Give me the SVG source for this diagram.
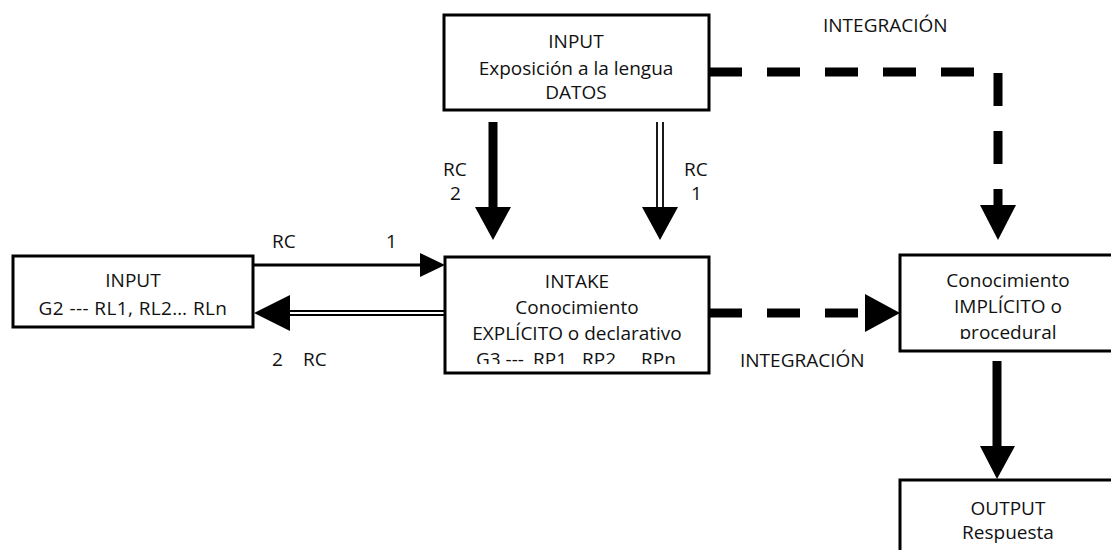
<svg xmlns="http://www.w3.org/2000/svg" width="1111" height="550" viewBox="0 0 1111 550">
<style>
.box{fill:#fff;stroke:#000;stroke-width:3}
text{font-family:"Open Sans","Noto Sans","Liberation Sans",sans-serif;font-size:19px;fill:#111}
.c{text-anchor:middle}
.thick{stroke:#000;stroke-width:9;fill:none}
.thin{stroke:#000;stroke-width:3;fill:none}
.dbl{stroke:#000;stroke-width:1.8;fill:none}
.dash{stroke:#000;stroke-width:9;fill:none;stroke-dasharray:33 25}
.head{fill:#000}
</style>
<defs>
<clipPath id="clipIntake"><rect x="445" y="257" width="264" height="107"/></clipPath>
<clipPath id="clipImpl"><rect x="900" y="255" width="211" height="84"/></clipPath>
</defs>
<rect width="1111" height="550" fill="#fff"/>
<g id="connectors">
  <line class="thick" x1="493" y1="122" x2="493" y2="208"/>
  <polygon class="head" points="475,207 511,207 493,240"/>
  <line class="dbl" x1="657" y1="122" x2="657" y2="208"/>
  <line class="dbl" x1="663" y1="122" x2="663" y2="208"/>
  <polygon class="head" points="642,207 678,207 660,240"/>
  <line class="thin" x1="253" y1="265" x2="422" y2="265"/>
  <polygon class="head" points="420,253 445,265 420,277"/>
  <line class="dbl" x1="445" y1="311" x2="288" y2="311"/>
  <line class="dbl" x1="445" y1="315" x2="288" y2="315"/>
  <polygon class="head" points="290,295 290,331 254,313"/>
  <path class="dash" d="M709,72 H976"/>
  <path class="dash" d="M998,73 V206" stroke-dasharray="33 26"/>
  <polygon class="head" points="980,205 1016,205 998,240"/>
  <path class="dash" d="M709,313 H866"/>
  <polygon class="head" points="865,294 865,332 900,313"/>
  <line class="thick" x1="997" y1="361" x2="997" y2="447"/>
  <polygon class="head" points="980,446 1015,446 997,479"/>
</g>
<g id="input-top">
  <rect class="box" x="444" y="15" width="265" height="95"/>
  <text class="c" x="576" y="48">INPUT</text>
  <text class="c" x="576" y="75">Exposición a la lengua</text>
  <text class="c" x="576" y="99">DATOS</text>
</g>
<g id="input-left">
  <rect class="box" x="13" y="256" width="240" height="71"/>
  <text class="c" x="133" y="287">INPUT</text>
  <text class="c" x="133" y="315" letter-spacing="0.4">G2 --- RL1, RL2… RLn</text>
</g>
<g id="intake">
  <rect class="box" x="445" y="257" width="264" height="116"/>
  <g clip-path="url(#clipIntake)">
    <text class="c" x="577" y="288">INTAKE</text>
    <text class="c" x="577" y="314">Conocimiento</text>
    <text class="c" x="577" y="340">EXPLÍCITO o declarativo</text>
    <text y="366"><tspan x="476">G3 ---</tspan><tspan x="533">RP1</tspan><tspan x="582">RP2</tspan><tspan x="641">RPn</tspan></text>
  </g>
</g>
<g id="implicito">
  <rect class="box" x="900" y="255" width="215" height="96"/>
  <g clip-path="url(#clipImpl)">
    <text class="c" x="1008" y="287">Conocimiento</text>
    <text class="c" x="1008" y="313">IMPLÍCITO o</text>
    <text class="c" x="1008" y="339">procedural</text>
  </g>
</g>
<g id="output">
  <rect class="box" x="900" y="480" width="215" height="80"/>
  <text class="c" x="1008" y="515">OUTPUT</text>
  <text class="c" x="1008" y="539">Respuesta</text>
</g>
<g id="labels">
  <text x="823" y="32">INTEGRACIÓN</text>
  <text x="740" y="367">INTEGRACIÓN</text>
  <text x="443" y="176">RC</text>
  <text x="450" y="200">2</text>
  <text x="684" y="176">RC</text>
  <text x="691" y="200">1</text>
  <text x="272" y="248">RC</text>
  <text x="386" y="248">1</text>
  <text x="272" y="366">2</text>
  <text x="303" y="366">RC</text>
</g>
</svg>
